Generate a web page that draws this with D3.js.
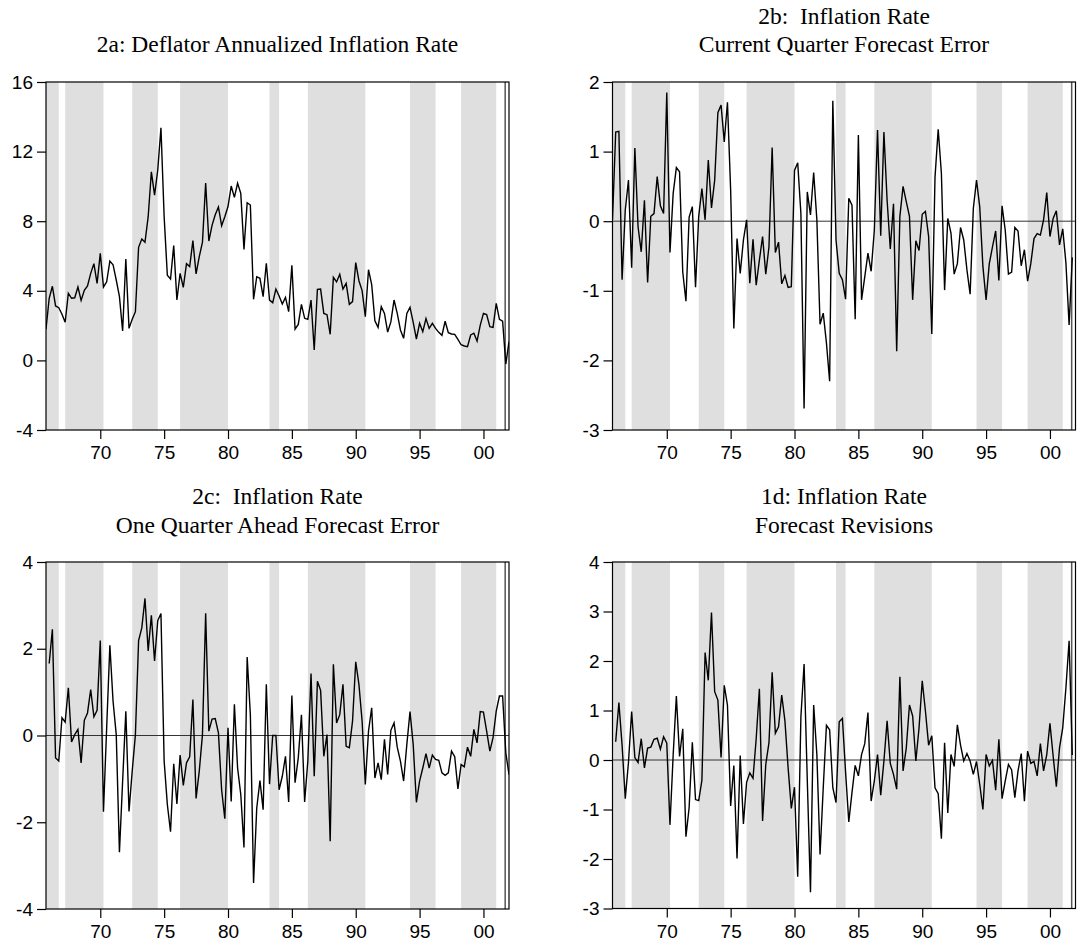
<!DOCTYPE html>
<html>
<head>
<meta charset="utf-8">
<script src="https://cdn.jsdelivr.net/npm/d3@7/dist/d3.min.js"></script>
<style>
  body { margin: 0; background: #fff; }
  svg { display: block; }
</style>
</head>
<body>
<svg id="chart" width="1078" height="952"></svg>
<script>
// quarterly dates, 1965Q4 .. 2002Q1
const quarters = d3.range(146).map(i => 1965.75 + i / 4)

// shaded periods (start, end in fractional years)
const bandStarts = [1965.75, 1967.25, 1972.5, 1976.25, 1983.25, 1986.25, 1994.25, 1998.25]
const bandEnds = [1966.75, 1970.25, 1974.5, 1980.0, 1984.0, 1990.75, 1996.25, 2001.0]
const markerYear = 2001.7

const xTickYears = [1970, 1975, 1980, 1985, 1990, 1995, 2000]
const xTickLabels = ['70', '75', '80', '85', '90', '95', '00']

// 2a: deflator annualized inflation rate, 1965Q4 ..
const deflator = [
  1.79, 3.57, 4.26, 3.13, 3.03, 2.65, 2.19, 3.86, 3.57, 3.6,
  4.22, 3.45, 4.03, 4.28, 5.0, 5.56, 4.43, 6.15, 4.22, 4.52,
  5.71, 5.5, 4.62, 3.66, 1.69, 5.83, 1.84, 2.36, 2.8, 6.5,
  6.98, 6.79, 8.26, 10.84, 9.5, 10.94, 13.37, 8.26, 4.89, 4.68,
  6.6, 3.47, 5.0, 4.2, 5.56, 5.39, 6.88, 4.97, 5.96, 6.79,
  10.2, 6.86, 7.76, 8.37, 8.82, 7.74, 8.26, 8.84, 10.02, 9.37,
  10.18, 9.6, 6.38, 9.06, 8.93, 3.51, 4.81, 4.72, 3.66, 5.58,
  3.47, 3.32, 4.1, 3.7, 3.24, 3.62, 2.8, 5.46, 1.8, 2.07,
  3.22, 2.42, 2.36, 3.47, 0.6, 4.08, 4.1, 2.7, 2.63, 1.5,
  4.77, 4.51, 4.95, 4.1, 4.43, 3.22, 3.38, 5.62, 4.58, 4.01,
  2.51, 5.21, 4.35, 2.28, 1.9, 3.09, 2.7, 1.63, 2.21, 3.47,
  2.7, 1.75, 1.27, 2.7, 3.05, 2.19, 1.23, 2.13, 1.65, 2.4,
  1.84, 2.13, 1.84, 1.61, 1.44, 2.25, 1.59, 1.52, 1.5, 1.21,
  0.9, 0.83, 0.79, 1.46, 1.56, 1.11, 2.03, 2.7, 2.63, 1.94,
  1.9, 3.28, 2.36, 2.25, -0.21, 1.08
]

// 2b: current quarter forecast error, 1965Q4 ..
const currentErr = [
  0.02, 1.28, 1.29, -0.84, 0.16, 0.59, -0.67, 1.05, -0.08, -0.44,
  0.3, -0.88, 0.07, 0.11, 0.64, 0.22, 0.11, 1.85, -0.45, 0.4,
  0.77, 0.71, -0.73, -1.15, 0.06, 0.21, -0.95, 0.07, 0.47, 0.02,
  0.88, 0.19, 0.59, 1.56, 1.67, 1.14, 1.71, 0.45, -1.54, -0.25,
  -0.75, -0.27, 0.02, -0.89, -0.26, -0.92, -0.56, -0.22, -0.76, -0.37,
  1.06, -0.45, -0.3, -0.9, -0.78, -0.95, -0.94, 0.73, 0.84, 0.11,
  -2.69, 0.42, 0.09, 0.7, 0.02, -1.48, -1.32, -1.75, -2.3, 1.73,
  -0.27, -0.75, -0.84, -1.12, 0.33, 0.23, -1.41, 1.24, -1.13, -0.8,
  -0.46, -0.72, -0.13, 1.31, -0.21, 1.28, 0.3, -0.4, 0.25, -1.87,
  0.07, 0.5, 0.28, 0.07, -1.13, -0.28, -0.42, 0.1, 0.14, -0.22,
  -1.62, 0.63, 1.32, 0.69, -0.99, 0.04, -0.17, -0.76, -0.61, -0.09,
  -0.27, -0.7, -1.05, 0.18, 0.59, 0.21, -0.65, -1.13, -0.61, -0.37,
  -0.14, -0.85, 0.22, -0.13, -0.76, -0.73, -0.09, -0.14, -0.64, -0.41,
  -0.86, -0.61, -0.25, -0.18, -0.2, 0.02, 0.41, -0.22, 0.04, 0.15,
  -0.34, -0.11, -0.6, -1.49, -0.52
]

// 2c: one quarter ahead forecast error, 1966Q1 ..
const aheadErr = [
  1.66, 2.45, -0.52, -0.59, 0.41, 0.31, 1.1, -0.15, 0.02, 0.14,
  -0.63, 0.35, 0.52, 1.06, 0.43, 0.58, 2.19, -1.76, 0.18, 2.08,
  0.79, 0.02, -2.69, -1.05, 0.56, -1.75, -0.82, 0.02, 2.19, 2.48,
  3.16, 1.95, 2.77, 1.72, 2.65, 2.81, -0.59, -1.59, -2.22, -0.65,
  -1.58, -0.45, -1.15, -0.63, -0.49, 0.83, -1.45, -0.82, 0.02, 2.82,
  0.1, 0.38, 0.39, 0.06, -1.25, -1.92, 0.18, -1.52, 0.72, -0.75,
  -1.36, -2.58, 1.81, 0.48, -3.4, -1.67, -1.04, -1.71, 1.18, -1.12,
  0.0, 0.0, -1.25, -0.94, -0.48, -1.53, 0.92, -1.09, -0.52, 0.48,
  -1.53, -0.59, 1.43, -0.94, 1.25, 1.04, -0.48, 0.02, -2.44, 1.64,
  0.29, 0.48, 1.18, -0.25, -0.28, 0.33, 1.7, 1.18, 0.33, -1.13,
  0.1, 0.64, -0.98, -0.63, -1.02, -0.09, -0.9, 0.12, 0.29, -0.27,
  -0.59, -1.05, -0.21, 0.55, -0.21, -1.54, -1.05, -0.75, -0.42, -0.75,
  -0.45, -0.55, -0.57, -0.86, -0.92, -0.86, -0.36, -0.49, -1.23, -0.67,
  -0.72, -0.27, -0.48, 0.14, -0.17, 0.55, 0.54, 0.1, -0.36, -0.05,
  0.56, 0.91, 0.91, -0.4, -0.9
]

// 1d: forecast revisions, 1966Q1 ..
const revisions = [
  0.37, 1.16, 0.3, -0.78, -0.05, 0.98, 0.05, -0.05, 0.43, -0.16,
  0.24, 0.26, 0.42, 0.44, 0.22, 0.47, 0.34, -1.31, 0.1, 1.29,
  0.07, 0.63, -1.55, -0.96, 0.36, -0.8, -0.82, -0.41, 2.17, 1.61,
  2.98, 1.38, 1.21, 0.05, 1.51, 1.11, -0.93, -0.11, -1.99, 0.09,
  -1.29, -0.45, -0.26, -0.37, 0.43, 1.44, -1.23, -0.09, 0.35, 1.77,
  0.54, 0.67, 1.31, 0.79, -0.16, -0.98, -0.55, -2.36, 0.87, 1.94,
  -0.4, -2.67, 1.11, 0.11, -1.91, -0.56, 0.7, 0.61, -0.56, -0.86,
  0.77, 0.84, -0.25, -1.25, -0.66, -0.11, -0.32, 0.11, 0.33, 0.96,
  -0.83, -0.42, 0.11, -0.71, -0.02, 0.79, -0.07, -0.29, -0.59, 1.68,
  -0.22, 0.24, 1.11, 0.89, -0.02, 0.65, 1.6, 0.99, 0.3, 0.49,
  -0.56, -0.68, -1.59, 0.35, -1.07, 0.11, -0.13, 0.71, 0.3, -0.02,
  0.13, -0.02, -0.29, -0.03, -0.49, -1.0, 0.11, -0.12, -0.01, -0.61,
  0.42, -0.78, -0.42, -0.09, -0.2, -0.76, -0.22, 0.13, -0.83, 0.18,
  -0.07, -0.03, -0.32, 0.33, -0.22, 0.11, 0.74, 0.08, -0.54, 0.25,
  0.65, 1.46, 2.41, 0.1
]

const panels = [
  { title: ['2a: Deflator Annualized Inflation Rate'], values: deflator, first: 0,
    yTicks: [-4, 0, 4, 8, 12, 16], zeroLine: false,
    left: 46, right: 509, top: 82, bottom: 430, titleY: [51.5] },
  { title: ['2b:  Inflation Rate', 'Current Quarter Forecast Error'], values: currentErr, first: 0,
    yTicks: [-3, -2, -1, 0, 1, 2], zeroLine: true,
    left: 612.5, right: 1075.5, top: 82, bottom: 430, titleY: [23.5, 51.5] },
  { title: ['2c:  Inflation Rate', 'One Quarter Ahead Forecast Error'], values: aheadErr, first: 1,
    yTicks: [-4, -2, 0, 2, 4], zeroLine: true,
    left: 46, right: 509, top: 562, bottom: 909, titleY: [504, 532.5] },
  { title: ['1d: Inflation Rate', 'Forecast Revisions'], values: revisions, first: 1,
    yTicks: [-3, -2, -1, 0, 1, 2, 3, 4], zeroLine: true,
    left: 612.5, right: 1075.5, top: 562, bottom: 908.5, titleY: [504, 532.5] }
]

const svg = d3.select('#chart')
svg.append('rect').attr('width', 1078).attr('height', 952).attr('fill', '#fff')

panels.forEach((p, k) => {
  const yMin = d3.min(p.yTicks)
  const yMax = d3.max(p.yTicks)
  const x = d3.scaleLinear()
    .domain([quarters[0], quarters[quarters.length - 1]])
    .range([p.left, p.right])
  const y = d3.scaleLinear()
    .domain([yMin, yMax])
    .range([p.bottom, p.top])

  const g = svg.append('g')

  // clip for shading and line
  const clipId = 'clip' + k
  svg.append('clipPath').attr('id', clipId)
    .append('rect')
    .attr('x', p.left).attr('y', p.top)
    .attr('width', p.right - p.left).attr('height', p.bottom - p.top)

  const plot = g.append('g').attr('clip-path', `url(#${clipId})`)

  plot.selectAll('.band')
    .data(d3.zip(bandStarts, bandEnds))
    .join('rect')
    .attr('class', 'band')
    .attr('x', d => x(d[0]))
    .attr('width', d => x(d[1]) - x(d[0]))
    .attr('y', p.top)
    .attr('height', p.bottom - p.top)
    .attr('fill', '#dfdfdf')

  plot.append('line')
    .attr('x1', x(markerYear)).attr('x2', x(markerYear))
    .attr('y1', p.top).attr('y2', p.bottom)
    .attr('stroke', '#555')
    .attr('stroke-width', 1.5)

  if (p.zeroLine) {
    plot.append('line')
      .attr('x1', p.left).attr('x2', p.right)
      .attr('y1', y(0)).attr('y2', y(0))
      .attr('stroke', '#333')
      .attr('stroke-width', 1)
  }

  const pts = p.values.map((v, i) => ({ t: quarters[i + p.first], v: v }))
  const myLine = d3.line()
    .x(d => x(d.t))
    .y(d => y(d.v))

  plot.append('path')
    .datum(pts)
    .attr('d', myLine)
    .attr('fill', 'none')
    .attr('stroke', '#000')
    .attr('stroke-width', 1.4)
    .attr('stroke-linejoin', 'miter')

  // frame
  g.append('rect')
    .attr('x', p.left).attr('y', p.top)
    .attr('width', p.right - p.left).attr('height', p.bottom - p.top)
    .attr('fill', 'none')
    .attr('stroke', '#000')
    .attr('stroke-width', 1.2)

  // axes
  const yAxis = d3.axisLeft(y).tickValues(p.yTicks)
    .tickFormat(d => String(d)).tickSize(9).tickPadding(4)
  const xAxis = d3.axisBottom(x).tickValues(xTickYears)
    .tickFormat((d, i) => xTickLabels[i]).tickSize(9).tickPadding(7)

  const ya = g.append('g')
    .attr('transform', `translate(${p.left},0)`)
    .call(yAxis)
  const xa = g.append('g')
    .attr('transform', `translate(0,${p.bottom})`)
    .call(xAxis)

  ;[ya, xa].forEach(a => {
    a.select('.domain').remove()
    a.selectAll('.tick line').attr('stroke', '#000').attr('stroke-width', 1.2)
    a.selectAll('.tick text')
      .attr('fill', '#000')
      .style('font-family', '"Liberation Sans", Arial, sans-serif')
      .style('font-size', '19px')
  })

  // title (keep the double spaces)
  p.title.forEach((line, j) => {
    g.append('text')
      .attr('x', (p.left + p.right) / 2)
      .attr('y', p.titleY[j])
      .attr('text-anchor', 'middle')
      .style('white-space', 'pre')
      .style('font-family', '"Liberation Serif", "Times New Roman", serif')
      .style('font-size', '23.5px')
      .attr('fill', '#000')
      .text(line)
  })
})
</script>
</body>
</html>
